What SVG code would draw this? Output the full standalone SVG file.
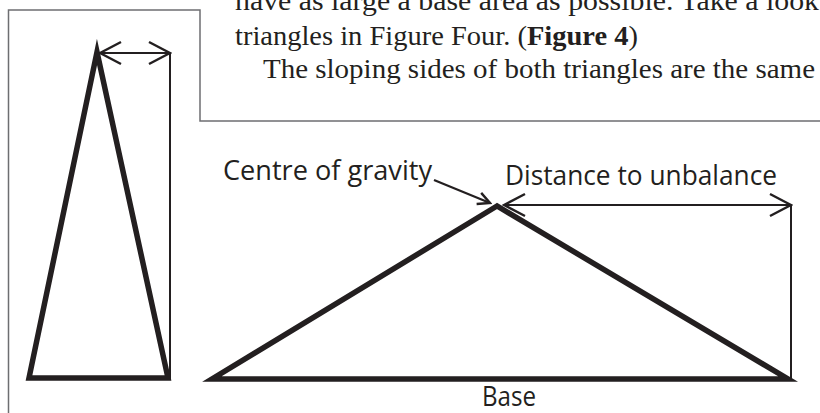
<svg xmlns="http://www.w3.org/2000/svg" width="820" height="413" viewBox="0 0 820 413">
<style>
.body{font-family:"Liberation Serif","Times New Roman",serif;font-size:27px;fill:#231f20}
.lbl{font-family:"Open Sans","Noto Sans","Liberation Sans",sans-serif;font-size:28px;fill:#231f20}
.frame{fill:none;stroke:#6d6e71;stroke-width:1.5}
.tri{fill:none;stroke:#231f20;stroke-width:5.5;stroke-linejoin:miter;stroke-miterlimit:20}
.thin{fill:none;stroke:#231f20;stroke-width:2}
.dim{fill:none;stroke:#231f20;stroke-width:2.2;marker-start:url(#chev);marker-end:url(#chev)}
.ptr{fill:none;stroke:#231f20;stroke-width:2.2;marker-end:url(#chevS)}
</style>
<defs>
<marker id="chev" markerUnits="userSpaceOnUse" viewBox="0 0 24 26" refX="22" refY="13" markerWidth="24" markerHeight="26" orient="auto-start-reverse">
<path d="M1,2 L22,13 L1,24" fill="none" stroke="#231f20" stroke-width="2.5"/>
</marker>
<marker id="chevS" markerUnits="userSpaceOnUse" viewBox="0 0 16 16" refX="14" refY="8" markerWidth="16" markerHeight="16" orient="auto">
<path d="M2,2 L14,8 L2,14" fill="none" stroke="#231f20" stroke-width="2.4"/>
</marker>
</defs>
<rect width="820" height="413" fill="#ffffff"/>
<g id="text-block">
<text class="body" x="235" y="10" textLength="584" lengthAdjust="spacingAndGlyphs">have as large a base area as possible. Take a look</text>
<text class="body" x="235" y="45" textLength="403" lengthAdjust="spacingAndGlyphs">triangles in Figure Four. (<tspan font-weight="bold">Figure 4</tspan>)</text>
<text class="body" x="263" y="78" textLength="552" lengthAdjust="spacingAndGlyphs">The sloping sides of both triangles are the same</text>
</g>
<g id="frame">
<path class="frame" d="M8.5,413 V10 H200 V121 H820"/>
</g>
<g id="small-triangle">
<path class="tri" d="M97,52 L29,378 L168,378 Z"/>
</g>
<g id="large-triangle">
<path class="tri" d="M497,206 L212,379 L788,379 Z"/>
</g>
<g id="labels">
<text class="lbl" x="223" y="180" textLength="209" lengthAdjust="spacingAndGlyphs">Centre of gravity</text>
<text class="lbl" x="505" y="185" textLength="272" lengthAdjust="spacingAndGlyphs">Distance to unbalance</text>
<text class="lbl" x="482" y="406" textLength="54" lengthAdjust="spacingAndGlyphs">Base</text>
</g>
<g id="connectors">
<path class="thin" d="M170,53 V379"/>
<path class="dim" d="M100,53 H170"/>
<path class="thin" d="M791,205 V381"/>
<path class="dim" d="M504,205 H791"/>
<path class="ptr" d="M434,180 L490,203"/>
</g>
</svg>
